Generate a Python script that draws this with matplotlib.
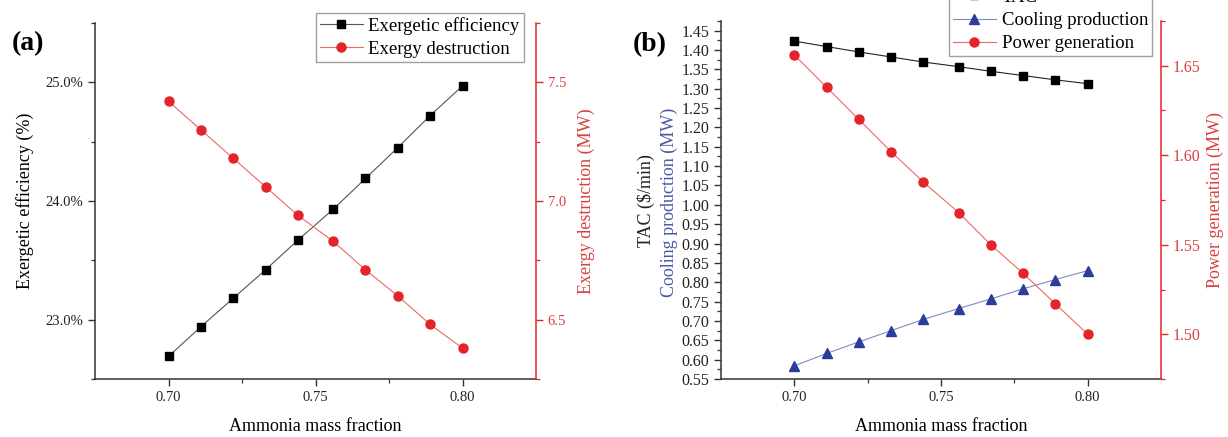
import numpy as np
import matplotlib

matplotlib.use("Agg")
import matplotlib.pyplot as plt
from matplotlib.ticker import FixedLocator, MultipleLocator, FuncFormatter

plt.rcParams["font.family"] = ["Liberation Serif", "DejaVu Serif"]
plt.rcParams["mathtext.fontset"] = "stix"

# ---- dati ----
ammonia = [0.700, 0.711, 0.722, 0.733, 0.744, 0.756, 0.767, 0.778, 0.789, 0.800]

# (a)
exergetic_eff = [22.69, 22.94, 23.18, 23.42, 23.67, 23.93, 24.19, 24.45, 24.72, 24.97]
exergy_destr = [7.42, 7.30, 7.18, 7.06, 6.94, 6.83, 6.71, 6.60, 6.48, 6.38]

# (b)
tac = [1.423, 1.409, 1.395, 1.382, 1.369, 1.357, 1.345, 1.334, 1.323, 1.313]
cooling = [0.584, 0.616, 0.646, 0.675, 0.704, 0.732, 0.757, 0.783, 0.807, 0.830]
power = [1.656, 1.638, 1.620, 1.602, 1.585, 1.568, 1.550, 1.534, 1.517, 1.500]

RED = "#e3242b"
RED_LINE = "#ec6a5e"
RED_TXT = "#d8413f"
BLUE = "#2b3c9b"
BLUE_TXT = "#4a58a6"
W, H = 1228, 437


def style_axis(ax, right=None):
    ax.set_xlim(0.675, 0.825)
    ax.xaxis.set_major_locator(FixedLocator([0.70, 0.75, 0.80]))
    ax.xaxis.set_minor_locator(FixedLocator([0.725, 0.775]))
    ax.xaxis.set_major_formatter(FuncFormatter(lambda v, p: f"{v:.2f}"))
    ax.spines["top"].set_visible(False)
    ax.spines["right"].set_visible(False)
    for s in ("left", "bottom"):
        ax.spines[s].set_color("#333333")
        ax.spines[s].set_linewidth(1.1)
    ax.tick_params(which="major", direction="out", length=5, width=1.0, colors="#333333", labelsize=10.5)
    ax.tick_params(which="minor", direction="out", length=3, width=0.9, colors="#333333")
    ax.tick_params(axis="both", labelcolor="#222222")
    ax.set_xlabel("Ammonia mass fraction", fontsize=13, labelpad=10)
    if right is not None:
        right.spines["top"].set_visible(False)
        right.spines["left"].set_visible(False)
        right.spines["bottom"].set_visible(False)
        right.spines["right"].set_color(RED)
        right.spines["right"].set_linewidth(1.1)
        right.tick_params(which="major", direction="out", length=5, width=1.0, colors=RED,
                          labelcolor=RED_TXT, labelsize=10.5)
        right.tick_params(which="minor", direction="out", length=3, width=0.9, colors=RED)


def legend(handles, anchor, loc):
    return fig.legend(handles=handles, loc=loc, bbox_to_anchor=anchor, borderaxespad=0,
                      fontsize=13.5, frameon=True, fancybox=False, edgecolor="#888888",
                      handlelength=2.3, handletextpad=0.3, borderpad=0.2, labelspacing=0.32)


fig = plt.figure(figsize=(W / 100, H / 100), dpi=100)

# ---------------- (a) ----------------
axa = fig.add_axes([95 / W, 1 - 379 / H, (536 - 95) / W, (379 - 23) / H])
axa2 = axa.twinx()
la, = axa.plot(ammonia, exergetic_eff, "-s", color="#555555", lw=0.8, ms=6,
               mfc="black", mec="black", label="Exergetic efficiency")
lb, = axa2.plot(ammonia, exergy_destr, "-o", color=RED_LINE, lw=0.8, ms=6.5,
                mfc=RED, mec=RED, label="Exergy destruction")
axa.set_ylim(22.5, 25.5)
axa.yaxis.set_major_locator(FixedLocator([23.0, 24.0, 25.0]))
axa.yaxis.set_minor_locator(MultipleLocator(0.5))
axa.yaxis.set_major_formatter(FuncFormatter(lambda v, p: f"{v:.1f}%"))
axa2.set_ylim(6.25, 7.75)
axa2.yaxis.set_major_locator(FixedLocator([6.5, 7.0, 7.5]))
axa2.yaxis.set_minor_locator(MultipleLocator(0.25))
axa2.yaxis.set_major_formatter(FuncFormatter(lambda v, p: f"{v:.1f}"))
style_axis(axa, axa2)
axa.set_ylabel("Exergetic efficiency (%)", fontsize=13, labelpad=8)
axa2.set_ylabel("Exergy destruction (MW)", fontsize=13, color=RED_TXT, labelpad=8)
legend([la, lb], (316 / W, 1 - 13 / H), "upper left")
fig.text(28 / W, 1 - 44 / H, "(a)", fontsize=20, fontweight="bold", ha="center", va="center")

# ---------------- (b) ----------------
axb = fig.add_axes([721 / W, 1 - 379 / H, (1161 - 721) / W, (379 - 21) / H])
axb2 = axb.twinx()
lt, = axb.plot(ammonia, tac, "-s", color="#222222", lw=0.8, ms=6,
               mfc="black", mec="black", label="TAC")
lc, = axb.plot(ammonia, cooling, "-^", color="#7f8ac4", lw=0.8, ms=6.5,
               mfc=BLUE, mec=BLUE, label="Cooling production")
lp, = axb2.plot(ammonia, power, "-o", color=RED_LINE, lw=0.8, ms=6.5,
                mfc=RED, mec=RED, label="Power generation")
axb.set_ylim(0.55, 1.475)
axb.yaxis.set_major_locator(MultipleLocator(0.05))
axb.yaxis.set_minor_locator(MultipleLocator(0.025))
axb.yaxis.set_major_formatter(FuncFormatter(lambda v, p: f"{v:.2f}"))
axb2.set_ylim(1.475, 1.675)
axb2.yaxis.set_major_locator(FixedLocator([1.50, 1.55, 1.60, 1.65]))
axb2.yaxis.set_minor_locator(MultipleLocator(0.025))
axb2.yaxis.set_major_formatter(FuncFormatter(lambda v, p: f"{v:.2f}"))
style_axis(axb, axb2)
axb.tick_params(axis="y", labelsize=11.5)
axb2.tick_params(axis="y", labelsize=11.5)
axb2.set_ylabel("Power generation (MW)", fontsize=13, color=RED_TXT, labelpad=4)
fig.text(646 / W, 1 - 201 / H, "TAC ($/min)", fontsize=13, rotation=90,
         ha="center", va="center", color="#222222")
fig.text(669 / W, 1 - 202 / H, "Cooling production (MW)", fontsize=13, rotation=90,
         ha="center", va="center", color=BLUE_TXT)
# la voce "TAC" esce in parte dal bordo superiore, come nell'originale
legend([lt, lc, lp], (949 / W, 1 - 56 / H), "lower left")
fig.text(650 / W, 1 - 45 / H, "(b)", fontsize=20, fontweight="bold", ha="center", va="center")

fig.savefig("out.png", dpi=100)
